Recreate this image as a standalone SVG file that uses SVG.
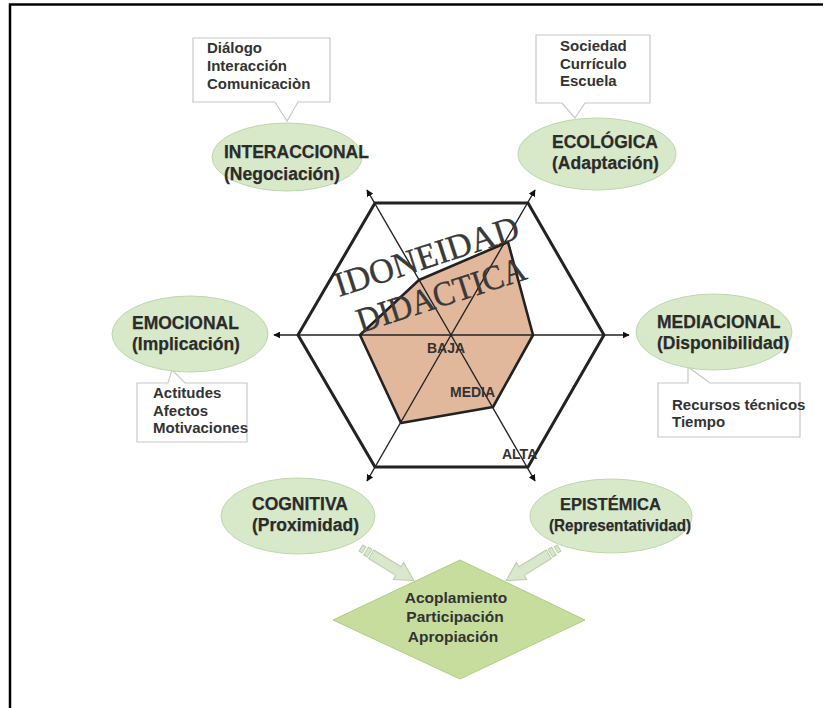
<svg xmlns="http://www.w3.org/2000/svg" width="823" height="708" viewBox="0 0 823 708">
  <style>
    .frame { stroke: #000; stroke-width: 2.5; fill: none; }
    .axis { stroke: #222; stroke-width: 1.4; fill: none; }
    .hex { stroke: #222; stroke-width: 3; fill: none; stroke-linejoin: miter; }
    .level { fill: #e2b89d; stroke: #222; stroke-width: 2.6; stroke-linejoin: round; }
    .oval { fill: #d7e9c9; stroke: #bed6ad; stroke-width: 1; }
    .oval-text { font-family: "Liberation Sans", Arial, sans-serif; font-weight: bold; font-size: 17.5px; fill: #2b2b2b; stroke: #2b2b2b; stroke-width: 0.25; }
    .note { fill: #fff; stroke: #c8c8c8; stroke-width: 1.2; }
    .note-text { font-family: "Liberation Sans", Arial, sans-serif; font-weight: bold; font-size: 15px; fill: #333; }
    .level-text { font-family: "Liberation Sans", Arial, sans-serif; font-weight: bold; font-size: 14px; fill: #333; }
    .title { font-family: "Liberation Serif", "Times New Roman", serif; font-size: 35px; fill: #3a3a3a; stroke: #222; stroke-width: 0.3; }
    .diamond { fill: #c7dd9e; stroke: #b2cb86; stroke-width: 1; }
    .block { fill: #d9e8cc; stroke: #b9ccab; stroke-width: 1; }
  </style>
  <defs>
    <marker id="tip" viewBox="0 0 10 10" refX="9" refY="5" markerWidth="7" markerHeight="7" markerUnits="userSpaceOnUse" orient="auto">
      <path d="M0,0 L10,5 L0,10 Z" fill="#111"/>
    </marker>
    <!-- block arrow with striped tail, pointing along +x, length 62 -->
    <g id="block-arrow">
      <rect class="block" x="0" y="-3.5" width="3.5" height="7"/>
      <rect class="block" x="6" y="-4.5" width="4" height="9"/>
      <path class="block" d="M12,-5 H44 V-10 L62,0 L44,10 V5 H12 Z"/>
    </g>
  </defs>

  <rect width="823" height="708" fill="#fff"/>

  <!-- page frame -->
  <path class="frame" d="M10,708 V4.5 H823"/>

  <!-- levels polygon -->
  <polygon class="level" points="360,335 419,280 508,242 533,335 493,407 401,423"/>

  <g id="connectors">
    <!-- axes through the hexagon centre (451,335) -->
    <line class="axis" x1="451" y1="335" x2="274" y2="335" marker-end="url(#tip)"/>
    <line class="axis" x1="451" y1="335" x2="629" y2="335" marker-end="url(#tip)"/>
    <line class="axis" x1="451" y1="335" x2="367" y2="190" marker-end="url(#tip)"/>
    <line class="axis" x1="451" y1="335" x2="535" y2="190" marker-end="url(#tip)"/>
    <line class="axis" x1="451" y1="335" x2="367" y2="481" marker-end="url(#tip)"/>
    <line class="axis" x1="451" y1="335" x2="535" y2="481" marker-end="url(#tip)"/>
    <!-- block arrows into the diamond -->
    <use href="#block-arrow" transform="translate(361,548) rotate(31.6)"/>
    <use href="#block-arrow" transform="translate(559,548) rotate(148.4)"/>
  </g>

  <!-- outer hexagon -->
  <polygon class="hex" points="375,203 528,203 604,335 528,467 375,467 298,335"/>

  <!-- title across the chart -->
  <text class="title" x="339" y="297" transform="rotate(-18 339 297)" textLength="192" lengthAdjust="spacingAndGlyphs">IDONEIDAD</text>
  <text class="title" x="361" y="333" transform="rotate(-18 361 333)" textLength="176" lengthAdjust="spacingAndGlyphs">DIDACTICA</text>

  <text class="level-text" x="427" y="353">BAJA</text>
  <text class="level-text" x="450" y="397">MEDIA</text>
  <text class="level-text" x="502" y="459">ALTA</text>

  <!-- callout notes -->
  <g id="note-interaccional">
    <path class="note" d="M193,38 H330 V102 H298 L287,121 L275,102 H193 Z"/>
    <text class="note-text" x="207" y="53">Diálogo</text>
    <text class="note-text" x="207" y="71">Interacción</text>
    <text class="note-text" x="207" y="89">Comunicaciòn</text>
  </g>
  <g id="note-ecologica">
    <path class="note" d="M536,35 H650 V103 H585 L575,118 L562,103 H536 Z"/>
    <text class="note-text" x="560" y="51">Sociedad</text>
    <text class="note-text" x="560" y="69">Currículo</text>
    <text class="note-text" x="560" y="86">Escuela</text>
  </g>
  <g id="note-emocional">
    <path class="note" d="M137,383 H168 L172,370 L185,383 H247 V442 H137 Z"/>
    <text class="note-text" x="153" y="398">Actitudes</text>
    <text class="note-text" x="153" y="416">Afectos</text>
    <text class="note-text" x="153" y="433">Motivaciones</text>
  </g>
  <g id="note-mediacional">
    <path class="note" d="M658,383 H688 V367 L710,383 H800 V437 H658 Z"/>
    <text class="note-text" x="672" y="410">Recursos técnicos</text>
    <text class="note-text" x="672" y="427">Tiempo</text>
  </g>

  <!-- dimension ovals -->
  <g id="interaccional">
    <ellipse class="oval" cx="287" cy="157" rx="75" ry="34"/>
    <text class="oval-text" x="224" y="158">INTERACCIONAL</text>
    <text class="oval-text" x="224" y="180">(Negociación)</text>
  </g>
  <g id="ecologica">
    <ellipse class="oval" cx="597" cy="154" rx="79" ry="36"/>
    <text class="oval-text" x="552" y="148">ECOLÓGICA</text>
    <text class="oval-text" x="552" y="169">(Adaptación)</text>
  </g>
  <g id="emocional">
    <ellipse class="oval" cx="190" cy="334" rx="78" ry="38"/>
    <text class="oval-text" x="132" y="329">EMOCIONAL</text>
    <text class="oval-text" x="132" y="350">(Implicación)</text>
  </g>
  <g id="mediacional">
    <ellipse class="oval" cx="714" cy="332" rx="78" ry="38"/>
    <text class="oval-text" x="657" y="328">MEDIACIONAL</text>
    <text class="oval-text" x="657" y="349">(Disponibilidad)</text>
  </g>
  <g id="cognitiva">
    <ellipse class="oval" cx="298" cy="516" rx="77" ry="38"/>
    <text class="oval-text" x="252" y="510">COGNITIVA</text>
    <text class="oval-text" x="252" y="531">(Proximidad)</text>
  </g>
  <g id="epistemica">
    <ellipse class="oval" cx="611" cy="516" rx="81" ry="37"/>
    <text class="oval-text" x="560" y="510" style="font-size:16.5px">EPISTÉMICA</text>
    <text class="oval-text" x="549" y="531" style="font-size:16.5px" textLength="142" lengthAdjust="spacingAndGlyphs">(Representatividad)</text>
  </g>

  <!-- outcome diamond -->
  <g id="resultado">
    <polygon class="diamond" points="460,560 585,620 460,679 333,620"/>
    <text class="note-text" x="456" y="603" text-anchor="middle" style="font-size:15.5px">Acoplamiento</text>
    <text class="note-text" x="455" y="622" text-anchor="middle" style="font-size:15.5px">Participación</text>
    <text class="note-text" x="453" y="642" text-anchor="middle" style="font-size:15.5px">Apropiación</text>
  </g>
</svg>
